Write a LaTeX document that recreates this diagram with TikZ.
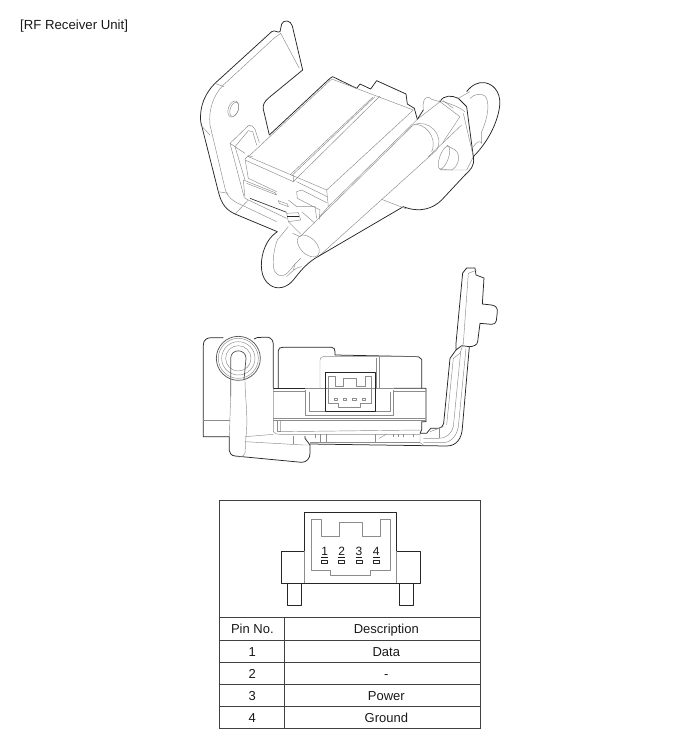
\documentclass[tikz,border=0pt]{standalone}
\usepackage{fontspec}
\setmainfont{Liberation Sans}
\tikzset{
  edgeline/.style={draw=black!85,line width=.75pt,line join=round},
  thinline/.style={draw=black!45,line width=.45pt,line join=round},
  rule/.style={draw=black!75,line width=.7pt},
  celltext/.style={font=\fontsize{13}{15}\selectfont,text=black!90,inner sep=0pt,anchor=base},
  pintext/.style={font=\fontsize{12}{14}\selectfont,text=black!90,inner sep=0pt},
}
\begin{document}
\begin{tikzpicture}[x=1pt,y=-1pt]
  \useasboundingbox (0,0) rectangle (700,753);
  \node[anchor=west,font=\fontsize{13.2}{15}\selectfont,inner sep=0pt,text=black!90] (title) at (20,26) {[RF Receiver Unit]};

  % perspective view
  \begin{scope}[shift={(180,10)},x=1/3*1pt,y=-1/3*1pt]
    % bracket
    \draw[edgeline] (368,180) -- (337,48) .. controls (333,30) and (310,28) .. (305,42) -- (300,65)
      .. controls (292,70) and (285,58) .. (275,65) -- (105,220)
      .. controls (75,250) and (58,290) .. (62,335) -- (115,545)
      .. controls (125,585) and (140,600) .. (165,612) -- (292,665);
    \draw[edgeline] (368,180) -- (268,262) .. controls (252,275) and (248,285) .. (250,298) -- (268,375);
    \draw[thinline] (130,225) -- (285,82) -- (302,70) -- (358,175);
    \draw[thinline] (130,225) .. controls (100,255) and (85,300) .. (90,345) -- (135,535)
      .. controls (140,560) and (160,575) .. (185,585) -- (290,635);
    \draw[thinline] (62,345) -- (90,375);
    \draw[thinline] (105,220) -- (132,230);
    \draw[thinline] (115,545) -- (145,550);
    \draw[thinline] (165,612) -- (205,570);
    \draw[thinline,rotate around={-20:(160,297)}] (160,297) ellipse (15 and 25);
    \draw[thinline,rotate around={-20:(160,297)}] (163,297) ellipse (12 and 22);
    \draw[thinline] (195,430) -- (150,400) -- (205,347) .. controls (215,345) and (222,350) .. (225,358) -- (238,398);
    \draw[thinline] (165,410) -- (205,362) -- (218,365) -- (230,405);
    \draw[thinline] (150,400) -- (192,560);
    \draw[thinline] (165,410) -- (195,510);
    % module
    \draw[edgeline] (268,375) -- (450,205) -- (458,200) -- (530,235) -- (540,222) -- (572,237)
      -- (590,212) -- (678,252) -- (682,282) -- (703,295) -- (712,328);
    \draw[thinline] (205,440) -- (455,207) -- (700,300) -- (440,540) -- (205,440);
    \draw[thinline] (195,447) -- (205,437) -- (218,440);
    \draw[thinline] (195,450) -- (340,515);
    \draw[thinline] (350,515) -- (442,560);
    \draw[thinline] (585,260) -- (335,497);
    \draw[thinline] (600,258) -- (350,505);
    \draw[thinline] (578,262) -- (330,495);
    \draw[thinline] (340,495) -- (340,515) -- (350,505);
    \draw[thinline] (195,447) -- (205,505) -- (290,545);
    \draw[thinline] (190,510) -- (285,548) -- (290,555) -- (200,520);
    \draw[thinline] (190,510) -- (195,565) -- (320,625);
    \draw[edgeline,line width=.6pt] (210,565) -- (320,607);
    \draw[thinline] (295,572) -- (322,582) -- (325,590) -- (298,580) -- cycle;
    \draw[thinline] (440,540) -- (445,590) -- (418,620);
    \draw[thinline] (350,545) -- (365,540) -- (440,578);
    \draw[thinline] (350,545) -- (352,565) -- (420,600) -- (418,628);
    \draw[thinline] (325,570) -- (350,590) -- (405,590) -- (410,625);
    % plug
    \draw[thinline] (320,610) -- (355,608) -- (362,630) -- (325,635) -- cycle;
    \draw[edgeline] (322,618) -- (358,618);
    \draw[thinline] (325,635) -- (362,672);
    \draw[thinline] (365,605) -- (405,640);
    % tube
    \draw[thinline] (712,328) -- (445,590);
    \draw[thinline] (700,345) -- (360,680);
    \draw[thinline] (770,420) -- (415,740);
    \draw[thinline] (700,345) .. controls (745,325) and (795,375) .. (770,420);
    \draw[thinline] (700,345) .. controls (730,335) and (775,380) .. (755,425);
    \draw[thinline,rotate around={45:(385,708)}] (385,708) ellipse (24 and 40);
    \draw[thinline] (712,328) -- (780,275) -- (840,320) -- (790,395);
    \draw[thinline] (845,345) -- (745,440);
    \draw[thinline] (730,300) .. controls (725,260) and (745,255) .. (755,268) -- (780,275);
    \draw[edgeline] (712,328) -- (730,300);
    % nut
    \draw[edgeline] (780,275) .. controls (790,255) and (815,255) .. (835,265) -- (860,290);
    \draw[thinline] (778,270) .. controls (800,280) and (830,285) .. (855,305);
    \draw[thinline] (790,272) -- (820,295);
    \draw[edgeline] (860,290) -- (880,440);
    \draw[thinline] (850,310) -- (880,440);
    % side bolt
    \draw[thinline,rotate around={-20:(792,443)}] (792,443) ellipse (13 and 36);
    \draw[thinline] (800,405) -- (825,420) .. controls (845,435) and (835,470) .. (815,480) -- (780,478);
    \draw[thinline] (780,480) -- (860,480) -- (880,440);
    % wire loop
    \draw[edgeline] (860,245) .. controls (875,225) and (895,215) .. (915,218)
      .. controls (950,225) and (965,260) .. (958,295) .. controls (950,345) and (920,400) .. (880,440);
    \draw[thinline] (870,265) .. controls (885,250) and (905,250) .. (915,258)
      .. controls (930,275) and (925,320) .. (905,365);
    \draw[thinline] (880,410) .. controls (890,395) and (900,390) .. (905,400) -- (905,365);
    \draw[thinline] (835,265) -- (870,245);
    % lower body
    \draw[edgeline] (880,440) .. controls (885,470) and (870,480) .. (855,495) -- (785,570)
      .. controls (760,595) and (720,610) .. (670,590) -- (405,745)
      .. controls (375,765) and (360,785) .. (340,810)
      .. controls (320,835) and (290,840) .. (270,825) .. controls (240,805) and (240,760) .. (250,725)
      .. controls (258,700) and (270,680) .. (292,665);
    \draw[thinline] (605,568) -- (680,597);
    \draw[thinline] (292,690) .. controls (280,720) and (275,770) .. (285,785)
      .. controls (300,805) and (315,800) .. (330,780) -- (345,762);
    \draw[thinline] (292,690) -- (325,650);
    \draw[thinline] (320,800) .. controls (335,785) and (350,770) .. (365,770);
    \draw[thinline] (338,670) -- (360,680);
    \draw[thinline] (340,780) -- (345,762) -- (362,745);
  \end{scope}

  % side view
  \begin{scope}[shift={(190,290)},x=1/3*1pt,y=-1/3*1pt]
    % clip
    \draw[edgeline] (118,440) -- (40,440) -- (40,165) .. controls (40,150) and (50,143) .. (65,143) -- (100,143);
    \draw[edgeline] (192,147) .. controls (198,142) and (205,142) .. (215,142) -- (235,142)
      .. controls (245,145) and (250,152) .. (250,165) -- (250,295);
    \draw[thinline] (40,390) -- (120,390);
    \draw[edgeline,draw=black!65] (145,205) circle (66);
    \draw[thinline] (145,205) circle (60);
    \draw[thinline] (145,205) circle (50);
    \draw[thinline] (145,205) circle (38);
    % wire
    \draw[edgeline,draw=black!65] (122,320) -- (122,205) .. controls (122,175) and (168,175) .. (168,205) -- (162,270);
    \draw[thinline] (165,270) .. controls (165,320) and (175,380) .. (168,440) -- (165,490);
    \draw[edgeline] (118,440) -- (118,482) .. controls (118,490) and (125,497) .. (135,498)
      -- (335,517) .. controls (350,517) and (360,505) .. (360,490) -- (360,465);
    \draw[thinline] (122,320) -- (118,440);
    \draw[thinline] (165,490) .. controls (160,503) and (140,503) .. (135,498);
    \draw[thinline] (165,455) -- (340,465) -- (360,465);
    \draw[thinline] (310,438) -- (310,462);
    \draw[thinline] (165,440) -- (250,433);
    % module
    \draw[edgeline] (265,295) -- (265,182) .. controls (265,175) and (270,172) .. (278,172) -- (425,172)
      .. controls (432,172) and (435,178) .. (435,185) -- (435,195) -- (685,200) -- (695,208) -- (695,295);
    \draw[edgeline] (250,295) -- (345,295);
    \draw[edgeline] (610,295) -- (708,295) -- (708,395) -- (695,395) -- (695,420) -- (690,430);
    \draw[thinline] (250,295) -- (250,425) .. controls (255,432) and (260,433) .. (270,433) -- (690,433);
    \draw[thinline] (390,295) -- (390,210) .. controls (390,203) and (395,200) .. (400,200) -- (685,200);
    \draw[thinline] (568,200) -- (568,295);
    \draw[thinline] (560,205) -- (560,295);
    \draw[thinline] (345,295) -- (610,295);
    \draw[thinline] (345,300) -- (345,377) -- (610,377) -- (610,300);
    \draw[thinline] (358,305) -- (358,365) -- (405,365);
    \draw[thinline] (600,305) -- (600,365) -- (555,365);
    \draw[thinline] (250,305) -- (345,305);
    \draw[thinline] (610,305) -- (708,305);
    \draw[thinline] (250,385) -- (708,385);
    \draw[thinline] (250,392) -- (708,392);
    \draw[thinline] (262,392) -- (262,425) -- (272,425);
    \draw[thinline] (272,392) -- (272,425) -- (695,420);
    % connector
    \draw[edgeline,line width=.9pt] (405,248) rectangle (555,365);
    \draw[thinline] (415,258) -- (435,258) -- (435,288) -- (460,288) -- (460,265) -- (500,265) -- (500,288) -- (525,288)
      -- (525,258) -- (545,258) -- (545,340) -- (510,340) -- (510,352) -- (445,352) -- (445,340) -- (415,340) -- cycle;
    \foreach \px in {437,465,493,522}
      \draw[thinline] (\px-5,325) rectangle (\px+5,331);
    % base
    \draw[edgeline] (360,465) -- (345,445) -- (345,438);
    \draw[thinline] (360,458) -- (690,458);
    \draw[edgeline] (360,462) -- (770,468) .. controls (800,468) and (815,445) .. (817,415) -- (838,170);
    \draw[thinline] (375,432) -- (375,445);
    \draw[thinline] (390,432) -- (390,458);
    \draw[thinline] (410,432) -- (410,458);
    \draw[thinline] (555,432) -- (555,458);
    \draw[thinline] (568,445) -- (590,432);
    \draw[thinline] (610,432) -- (610,440);
    \draw[thinline] (625,432) -- (625,440);
    \draw[thinline] (640,432) -- (640,440);
    \draw[thinline] (670,432) -- (670,440);
    \draw[thinline] (690,432) -- (690,458) -- (700,465);
    % bracket
    \draw[edgeline] (690,430) -- (710,430) -- (722,415) -- (745,415) .. controls (755,412) and (760,408) .. (761,400)
      -- (780,205) -- (798,180) -- (798,160) -- (818,-51) -- (830,-66) -- (855,-66) -- (858,-45) -- (882,-36)
      -- (877,42) -- (905,45) .. controls (918,47) and (923,55) .. (922,65) -- (919,92)
      .. controls (918,100) and (912,103) .. (905,103) -- (870,100) -- (863,155)
      .. controls (862,165) and (850,170) .. (838,170) -- (815,167) -- (798,180);
    \draw[thinline] (860,-60) -- (835,-50) -- (820,160) -- (810,190) -- (790,205) -- (770,405);
    \draw[thinline] (828,175) -- (805,410) .. controls (800,440) and (780,460) .. (755,458) -- (700,458);
    \draw[thinline] (812,185) -- (790,410) .. controls (785,430) and (770,445) .. (745,445) -- (700,445);
    \draw[thinline] (748,415) -- (748,445);
    \draw[thinline] (720,425) -- (760,410);
  \end{scope}

  % connector view
  \begin{scope}[shift={(210,490)},x=1/3*1pt,y=-1/3*1pt]
    \draw[rule] (28,30) rectangle (811,716);
    \draw[rule] (28,382) -- (811,382);
    \draw[rule] (28,450) -- (811,450);
    \draw[rule] (28,517) -- (811,517);
    \draw[rule] (28,583) -- (811,583);
    \draw[rule] (28,649) -- (811,649);
    \draw[rule] (222,382) -- (222,716);
    \draw[edgeline] (283,183) -- (283,68) -- (558,68) -- (558,183) -- (630,183) -- (630,280) -- (213,280) -- (213,183) -- cycle;
    \draw[thinline] (283,183) -- (283,280);
    \draw[thinline] (558,183) -- (558,280);
    \draw[edgeline] (232,280) -- (232,345) -- (275,345) -- (275,280);
    \draw[edgeline] (568,280) -- (568,345) -- (610,345) -- (610,280);
    \draw[thinline] (303,88) -- (333,88) -- (333,140) -- (388,140) -- (388,97) -- (458,97) -- (458,140) -- (510,140)
      -- (510,88) -- (540,88) -- (540,240) -- (482,240) -- (482,257) -- (360,257) -- (360,240) -- (303,240) -- cycle;
    \foreach \px in {344,395,447,499}
      \draw[edgeline,line width=.5pt] (\px-9,212) rectangle (\px+9,220);
    \node[pintext] (pin1) at (344,187) {\underline{1}};
    \node[pintext] (pin2) at (395,187) {\underline{2}};
    \node[pintext] (pin3) at (447,187) {\underline{3}};
    \node[pintext] (pin4) at (499,187) {\underline{4}};
    \node[celltext] (headno) at (127,430) {Pin No.};
    \node[celltext] (headdesc) at (529,430) {Description};
    \node[celltext] (no1) at (127,498) {1};
    \node[celltext] (desc1) at (529,498) {Data};
    \node[celltext] (no2) at (127,564) {2};
    \node[celltext] (desc2) at (529,564) {-};
    \node[celltext] (no3) at (127,630) {3};
    \node[celltext] (desc3) at (529,630) {Power};
    \node[celltext] (no4) at (127,696) {4};
    \node[celltext] (desc4) at (529,696) {Ground};
  \end{scope}
\end{tikzpicture}
\end{document}
